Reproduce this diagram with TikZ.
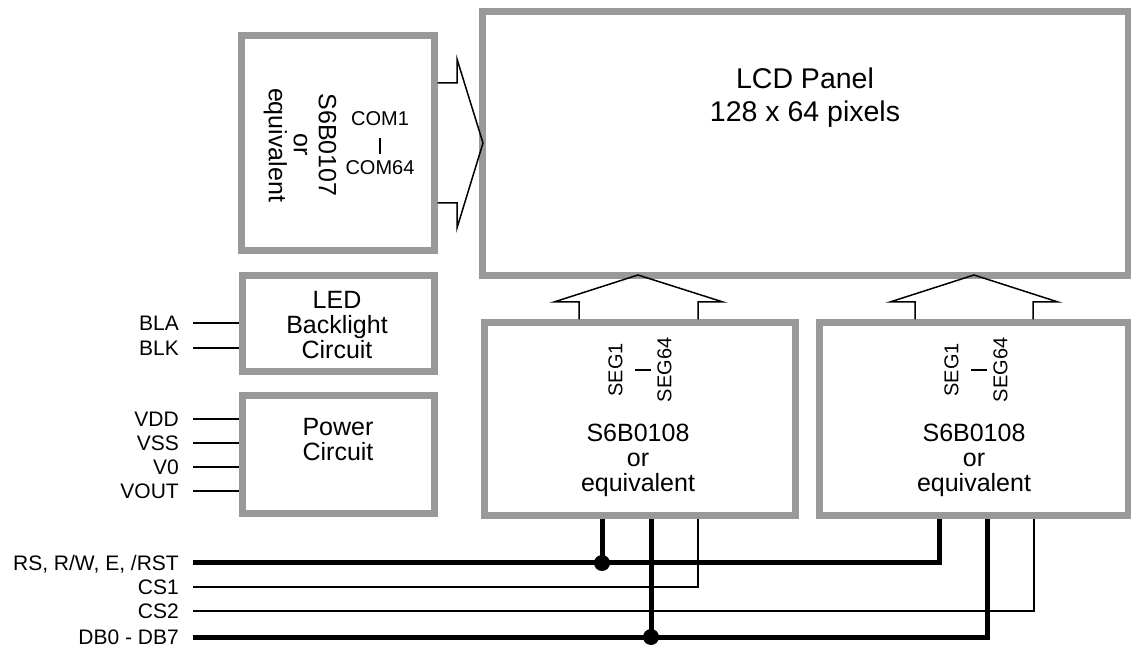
\documentclass[tikz,border=0pt]{standalone}
\usepackage{fontspec}
\setmainfont{Liberation Sans}
\definecolor{boxgray}{RGB}{153,153,153}
\begin{document}
\begin{tikzpicture}[x=1pt,y=1pt,
  blk/.style={draw=boxgray,line width=7pt,fill=white,rectangle,inner sep=0pt},
  bigtxt/.style={align=center,inner sep=0pt,font=\fontsize{25}{25}\selectfont},
  smalltxt/.style={align=center,inner sep=0pt,font=\fontsize{20}{24.5}\selectfont},
  pinlab/.style={anchor=base east,inner sep=0pt,font=\fontsize{21}{21}\selectfont},
  thinwire/.style={line width=1.2pt},
  thickwire/.style={line width=5pt},
  outline/.style={line width=1.5pt,line join=miter}]
\useasboundingbox (0,0) rectangle (1131,650);
% boxes
\node[blk,minimum width=646pt,minimum height=264pt] (lcd) at (805,506.5) {};
\node[blk,minimum width=192.5pt,minimum height=215.5pt] (com) at (337.75,506.75) {};
\node[blk,minimum width=192pt,minimum height=96pt] (led) at (338,326.5) {};
\node[blk,minimum width=192pt,minimum height=118pt] (pwr) at (338,195) {};
\node[blk,minimum width=311pt,minimum height=193pt] (seg1) at (639.5,230.5) {};
\node[blk,minimum width=309pt,minimum height=193pt] (seg2) at (973.5,230.5) {};
% texts
\node[align=center,inner sep=0pt,font=\fontsize{28.5}{33}\selectfont] (lcdtxt) at (805,552) {LCD Panel\\128 x 64 pixels};
\node[bigtxt,rotate=-90] (comtxt) at (300,505) {S6B0107\\or\\equivalent};
\node[smalltxt] (comlab) at (380,507) {COM1\\\rule[-4pt]{1.2pt}{16pt}\\COM64};
\node[bigtxt] (ledtxt) at (337,325) {LED\\Backlight\\Circuit};
\node[bigtxt] (pwrtxt) at (338,210) {Power\\Circuit};
\node[bigtxt] (s1txt) at (638,190) {S6B0108\\or\\equivalent};
\node[bigtxt] (s2txt) at (974,190) {S6B0108\\or\\equivalent};
\node[smalltxt,rotate=90] (s1lab) at (640,280) {SEG1\\\rule[-4pt]{1.2pt}{16pt}\\SEG64};
\node[smalltxt,rotate=90] (s2lab) at (976,280) {SEG1\\\rule[-4pt]{1.2pt}{16pt}\\SEG64};
% COM arrow
\draw[outline] (com.east |- 0,567) -- (457,567) -- (457,591) -- (483,507) -- (457,422) -- (457,447) -- (com.east |- 0,447);
% SEG arrows
\draw[outline] (seg1.north -| 579,0) -- (579,348) -- (554,348) -- (638,375) -- (723,348) -- (698,348) -- (seg1.north -| 698,0);
\draw[outline] (seg2.north -| 915,0) -- (915,348) -- (890,348) -- (974,375) -- (1058,348) -- (1033,348) -- (seg2.north -| 1033,0);
% pin labels
\node[pinlab] (lBLA) at (179,319.5) {BLA};
\node[pinlab] (lBLK) at (179,294.5) {BLK};
\node[pinlab] (lVDD) at (179,223.5) {VDD};
\node[pinlab] (lVSS) at (179,199.5) {VSS};
\node[pinlab] (lV0) at (179,175.5) {V0};
\node[pinlab] (lVOUT) at (179,151.5) {VOUT};
\node[pinlab] (lRS) at (179,79.5) {RS, R/W, E, /RST};
\node[pinlab] (lCS1) at (179,55.5) {CS1};
\node[pinlab] (lCS2) at (179,31.5) {CS2};
\node[pinlab] (lDB) at (179,5.5) {DB0 - DB7};
\coordinate (pBLA) at (193,327);
\coordinate (pBLK) at (193,302);
\coordinate (pVDD) at (193,231);
\coordinate (pVSS) at (193,207);
\coordinate (pV0) at (193,183);
\coordinate (pVOUT) at (193,159);
\coordinate (pRS) at (193,87);
\coordinate (pCS1) at (193,63);
\coordinate (pCS2) at (193,39);
\coordinate (pDB) at (193,13);
\draw[thinwire] (pBLA) -- (pBLA -| led.west);
\draw[thinwire] (pBLK) -- (pBLK -| led.west);
\draw[thinwire] (pVDD) -- (pVDD -| pwr.west);
\draw[thinwire] (pVSS) -- (pVSS -| pwr.west);
\draw[thinwire] (pV0) -- (pV0 -| pwr.west);
\draw[thinwire] (pVOUT) -- (pVOUT -| pwr.west);
% bus
\coordinate (jRS) at (602,87);
\coordinate (jDB) at (651,13);
\draw[thickwire] (pRS) -- (939,87) -- (seg2.south -| 939,0);
\draw[thickwire] (pDB) -- (987,13) -- (seg2.south -| 987,0);
\draw[thinwire] (pCS1) -- (698,63) -- (seg1.south -| 698,0);
\draw[thinwire] (pCS2) -- (1034,39) -- (seg2.south -| 1034,0);
\draw[thickwire] (seg1.south -| jRS) -- (jRS);
\draw[thickwire] (seg1.south -| jDB) -- (jDB);
\fill (jRS) circle (8);
\fill (jDB) circle (8);
\end{tikzpicture}
\end{document}
